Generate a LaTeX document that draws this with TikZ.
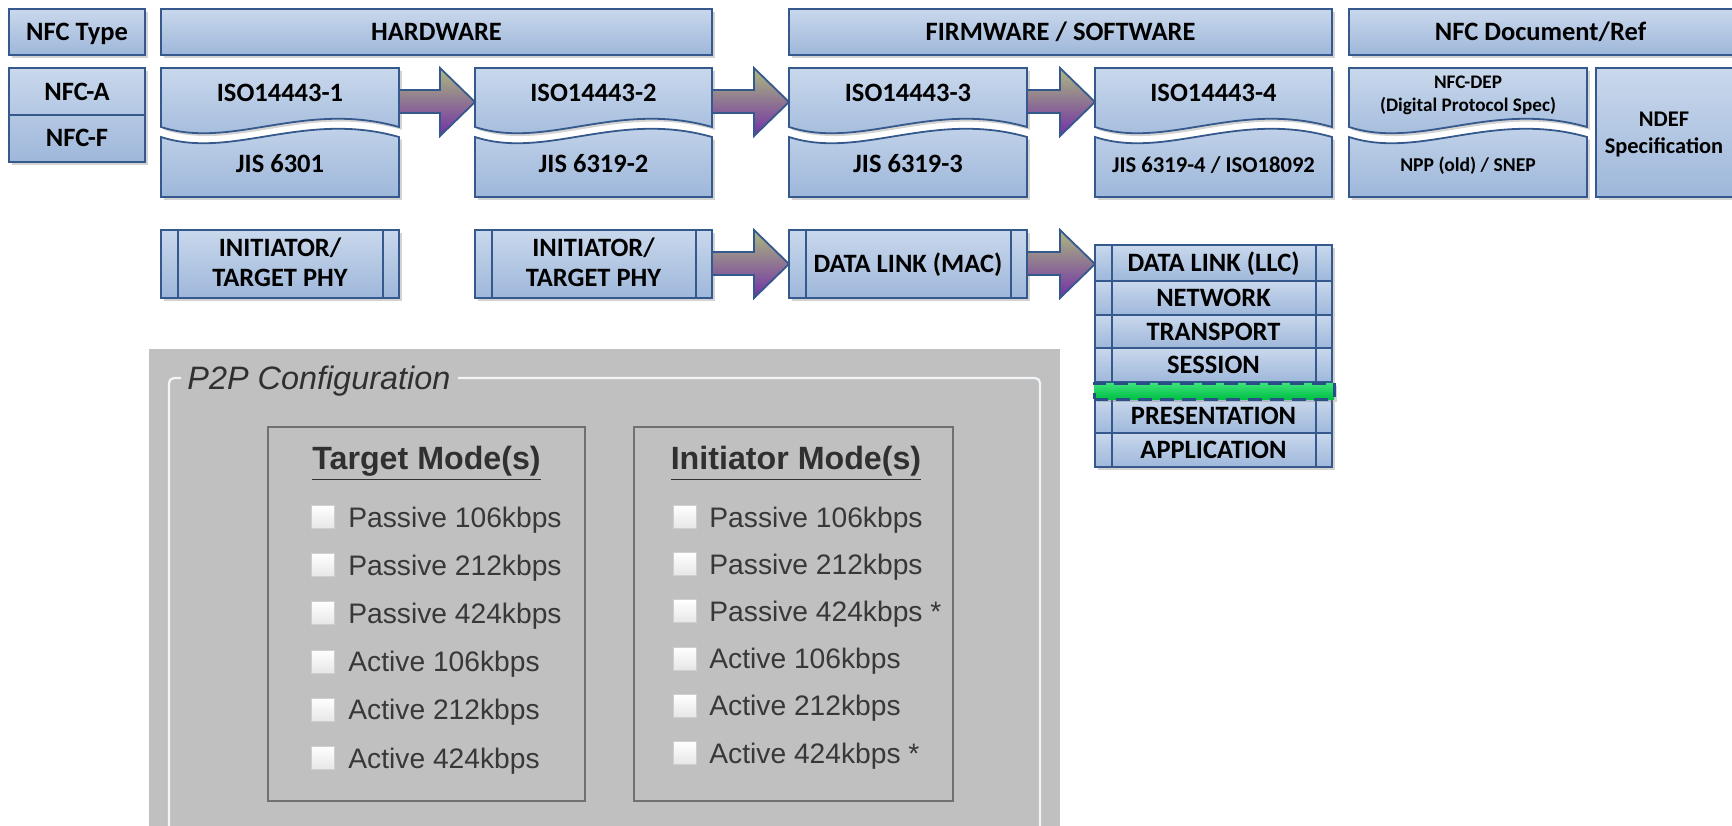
\documentclass[tikz,border=0pt]{standalone}
\usepackage{fontspec}
\newfontfamily\carl{Carlito}
\newfontfamily\arial{Liberation Sans}
\usetikzlibrary{calc,fit,shadows}
\definecolor{boxtop}{HTML}{C9D8EC}
\definecolor{boxbot}{HTML}{9EB7DA}
\definecolor{boxline}{HTML}{35598C}
\definecolor{arrtop}{HTML}{ABB97F}
\definecolor{arrbot}{HTML}{7230A6}
\definecolor{panelbg}{HTML}{C0C0C0}
\definecolor{frameline}{HTML}{F2F5F8}
\definecolor{grpline}{HTML}{707070}
\definecolor{uitext}{HTML}{383838}
\definecolor{uihd}{HTML}{303030}
\definecolor{bandtop}{HTML}{3BE27A}
\definecolor{bandbot}{HTML}{00BF45}
\definecolor{bandline}{HTML}{2A4F86}
\definecolor{cbline}{HTML}{CFCFCF}
\definecolor{cbbot}{HTML}{E6E6E6}

\newcommand\wavybox[5]{%
  \node[area, fit={(#2,68) (#3,197)}] (#1) {};
  \path[box] (#2,68) -- (#3,68) -- (#3,127)
     .. controls ({#2+0.6*(#3-#2)},100) and ({#2+0.3*(#3-#2)},150) .. (#2,127) -- cycle;
  \path[box] (#2,137) .. controls ({#2+0.3*(#3-#2)},160) and ({#2+0.6*(#3-#2)},110) .. (#3,137)
     -- (#3,197) -- (#2,197) -- cycle;
  \node[lbl1] (#1t) at ({(#2+#3)/2},93) {#4};
  \node[lbl1] (#1b) at ({(#2+#3)/2},164) {#5};
}
\newcommand\blkarrow[2]{%
  \path[blk] let \p1=(#1.north east), \p2=(#2.west) in
    (\x1,\y1-11pt) -- (\x2-17.5pt,\y1-11pt) -- (\x2-17.5pt,\y1) -- (\x2,\y1-17pt)
    -- (\x2-17.5pt,\y1-34pt) -- (\x2-17.5pt,\y1-22.5pt) -- (\x1,\y1-22.5pt) -- cycle;
}
\newcommand\sidebars[1]{%
  \draw[inner line] ([xshift=8.5pt]#1.north west) -- ([xshift=8.5pt]#1.south west);
  \draw[inner line] ([xshift=-8pt]#1.north east) -- ([xshift=-8pt]#1.south east);
}

\begin{document}
\begin{tikzpicture}[x=0.5pt,y=-0.5pt,
  box/.style={draw=boxline, line width=0.9pt, top color=boxtop, bottom color=boxbot,
    drop shadow={shadow xshift=1.4pt, shadow yshift=-1.4pt, opacity=0.35}},
  area/.style={inner sep=0pt, outer sep=0pt},
  lbl/.style={font=\carl\bfseries\fontsize{13.25}{15.2}\selectfont, align=center, inner sep=0pt},
  lbl1/.style={lbl, text height=0.63em, text depth=0pt, yshift=-1.1pt},
  blk/.style={draw=boxline, line width=0.9pt, top color=arrtop, bottom color=arrbot, line join=miter},
  inner line/.style={draw=boxline, line width=0.6pt},
  uihead/.style={font=\arial\bfseries\fontsize{16.1}{18}\selectfont, text=uihd, inner sep=0pt},
  uiitem/.style={font=\arial\fontsize{14.1}{16}\selectfont, text=uitext, inner sep=0pt, anchor=base west},
  cbox/.style={draw=cbline, line width=0.5pt, top color=white, bottom color=cbbot, minimum size=11.5pt, inner sep=0pt},
  grp/.style={draw=grpline, line width=1pt, area},
]
\useasboundingbox (0,0) rectangle (1732,825);

% ---------- headers ----------
\node[box, area, fit={(9,9) (145,55)}] (hType) {};
\node[lbl1] (hTypeT) at (hType.center) {NFC Type};
\node[box, area, fit={(161,9) (712,55)}] (hHw) {};
\node[lbl1] (hHwT) at (hHw.center) {HARDWARE};
\node[box, area, fit={(789,9) (1332,55)}] (hFw) {};
\node[lbl1] (hFwT) at (hFw.center) {FIRMWARE / SOFTWARE};
\node[box, area, fit={(1349,9) (1736,55)}] (hDoc) {};
\node[lbl1] (hDocT) at ($(hDoc.center)+(-2,0)$) {NFC Document/Ref};

% ---------- NFC type ----------
\node[box, area, fit={(9,68) (145,162)}] (nfcaf) {};
\draw[boxline, line width=0.9pt] (nfcaf.west) -- (nfcaf.east);
\node[lbl1] (nfca) at (77,92) {NFC-A};
\node[lbl1] (nfcf) at (77,138) {NFC-F};

% ---------- row 1 ----------
\wavybox{iso1}{161}{399}{ISO14443-1}{JIS 6301}
\wavybox{iso2}{475}{712}{ISO14443-2}{JIS 6319-2}
\wavybox{iso3}{789}{1027}{ISO14443-3}{JIS 6319-3}
\wavybox{iso4}{1095}{1332}{ISO14443-4}{\fontsize{11.3}{13}\selectfont JIS 6319-4 / ISO18092}
\node[area, fit={(1349,68) (1587,197)}] (dep) {};
\path[box] (1349,68) -- (1587,68) -- (1587,127)
   .. controls ({1349+0.6*238},100) and ({1349+0.3*238},150) .. (1349,127) -- cycle;
\path[box] (1349,137) .. controls ({1349+0.3*238},160) and ({1349+0.6*238},110) .. (1587,137)
   -- (1587,197) -- (1349,197) -- cycle;
\node[lbl, font=\carl\bfseries\fontsize{9.6}{11.5}\selectfont] (depT) at (1468,95.5) {NFC-DEP\\(Digital Protocol Spec)};
\node[lbl1, font=\carl\bfseries\fontsize{9.8}{11.5}\selectfont] (depB) at (1468,163) {NPP (old) / SNEP};
\node[box, area, fit={(1596,68) (1736,197)}] (ndef) {};
\node[lbl, font=\carl\bfseries\fontsize{11.2}{13.5}\selectfont] (ndefT) at (1664,134) {NDEF\\Specification};

\blkarrow{iso1}{iso2}
\blkarrow{iso2}{iso3}
\blkarrow{iso3}{iso4}

% ---------- row 2 ----------
\node[box, area, fit={(161,230) (399,298)}] (phy1) {};
\sidebars{phy1}
\node[lbl] (phy1T) at ($(phy1.center)+(0,-1.5)$) {INITIATOR/\\TARGET PHY};
\node[box, area, fit={(475,230) (712,298)}] (phy2) {};
\sidebars{phy2}
\node[lbl] (phy2T) at ($(phy2.center)+(0,-1.5)$) {INITIATOR/\\TARGET PHY};
\node[box, area, fit={(789,230) (1027,298)}] (mac) {};
\sidebars{mac}
\node[lbl1] (macT) at (mac.center) {DATA LINK (MAC)};

% ---------- OSI stack ----------
\foreach \nm/\ya/\yb/\txt in {llc/245/281/DATA LINK (LLC), net/281/315/NETWORK,
    trans/315/348/TRANSPORT, sess/348/382/SESSION, pres/399/433/PRESENTATION, app/433/467/APPLICATION}{
  \node[box, area, fit={(1095,\ya) (1332,\yb)}] (\nm) {};
  \sidebars{\nm}
  \node[lbl1] (\nm T) at (\nm.center) {\txt};
}
\node[area, fit={(1094,383) (1334,399)}, top color=bandtop, bottom color=bandbot,
  draw=bandline, line width=1.5pt, dash pattern=on 7pt off 4pt,
  drop shadow={shadow xshift=1.4pt, shadow yshift=-1.4pt, opacity=0.35}] (band) {};

\blkarrow{phy2}{mac}
\blkarrow{mac}{llc}

% ---------- P2P configuration panel ----------
\node[area, fill=panelbg, fit={(149,349) (1060,830)}] (panel) {};
\draw[frameline, line width=1.1pt, rounded corners=2.5pt] (181,378) -- (169,378) -- (169,832);
\draw[frameline, line width=1.1pt, rounded corners=2.5pt] (458,378) -- (1040,378) -- (1040,832);
\node[font=\arial\itshape\fontsize{16.2}{18}\selectfont, text=uihd, inner sep=0pt, anchor=base west] (title) at (187,389.6) {P2P Configuration};

\node[grp, fit={(268,427) (585,801)}] (tbox) {};
\node[grp, fit={(634,427) (953,801)}] (ibox) {};
\node[uihead, anchor=base] (thead) at (426.5,469.5) {\underline{Target Mode(s)}};
\node[uihead, anchor=base] (ihead) at (796,469.5) {\underline{Initiator Mode(s)}};

\foreach \t [count=\i] in {Passive 106kbps, Passive 212kbps, Passive 424kbps, Active 106kbps, Active 212kbps, Active 424kbps}{
  \pgfmathsetmacro\yc{517+48.2*(\i-1)}
  \node[cbox] (tcb\i) at (322.5,\yc) {};
  \node[uiitem] (tit\i) at (348,\yc+10) {\t};
}
\foreach \t [count=\i] in {Passive 106kbps, Passive 212kbps, Passive 424kbps *, Active 106kbps, Active 212kbps, Active 424kbps *}{
  \pgfmathsetmacro\yc{517+47.2*(\i-1)}
  \node[cbox] (icb\i) at (684.5,\yc) {};
  \node[uiitem] (iit\i) at (709,\yc+10) {\t};
}
\end{tikzpicture}
\end{document}
